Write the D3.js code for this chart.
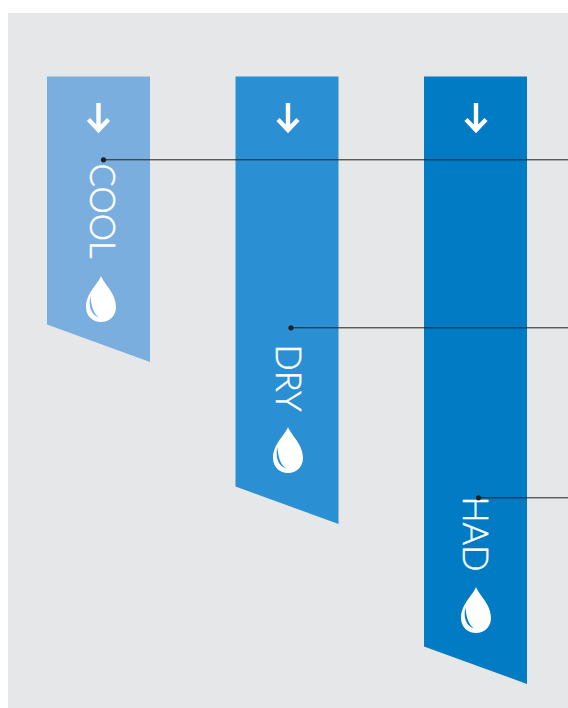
<!DOCTYPE html>
<html><head><meta charset="utf-8">
<script src="https://d3js.org/d3.v7.min.js"></script>
<style>html,body{margin:0;padding:0;background:#fff}svg{display:block}</style>
</head><body><svg id="c" width="568" height="708"></svg>
<script>
// Data (arbitrary depth units, top of bars = 0)
const categories = ["COOL", "DRY", "HAD"];
const barDepth = [248, 410, 570];
const leaderDepth = [83.3, 251.3, 421.3];
const colors = ["#7aaedf", "#2b90d3", "#007bc4"];

// Layout, separate from the data
const W = 568, H = 708, top0 = 76.5;
const slant = 37.5, barW = 103;
const labelY = [163.5, 344.5, 496.5], dropY = [276, 427, 587];
const dropShift = [2.5, 1, 0.5], arrowShift = [0, 1, 0.5];
const labelX = [89.5, 276, 462.5], dotX = [103.5, 291, 478.5];

const svg = d3.select("#c");
const xPos = d3.scalePoint().domain(categories).range([47, 424]);
const y = d3.scaleLinear().domain([0, 631.5]).range([top0, H]);

svg.append("rect").attr("x", 8).attr("y", 13).attr("width", W - 8).attr("height", H - 13).attr("fill", "#e6e7e9");

const line = d3.line();
const g = svg.selectAll("g.bar").data(categories).join("g").attr("class", "bar");

g.append("path").attr("fill", (d, i) => colors[i]).attr("d", (d, i) => {
  const l = xPos(d), r = l + barW, b = y(barDepth[i]);
  return line([[l, top0], [r, top0], [r, b + slant], [l, b]]) + "Z";
});

// arrow
g.append("path").attr("fill", "none").attr("stroke", "#fff").attr("stroke-width", 4.4).attr("stroke-linejoin", "miter")
  .attr("transform", (d, i) => `translate(${xPos(d) + barW / 2 + arrowShift[i]},0)`)
  .attr("d", "M0,103V130M-10,119.5L0,130L10,119.5");

// label
g.append("text").text(d => d)
  .attr("transform", (d, i) => `translate(${labelX[i]},${labelY[i]}) rotate(90)`)
  .attr("fill", "#fff").attr("stroke", "#fff").attr("stroke-width", 0.5)
  .attr("font-family", "Lato, 'Open Sans', sans-serif").attr("font-weight", 300)
  .attr("font-size", 34.5).attr("text-anchor", "start");

// drop
g.each(function(d, i) {
  const s = d3.select(this);
  const t = `translate(${xPos(d) + barW / 2 + dropShift[i]},${dropY[i]})`;
  s.append("path").attr("transform", t).attr("fill", "#fff")
    .attr("d", "M0,0C3,8 15,17 15,31C15,40 8,46 0,46C-8,46 -15,40 -15,31C-15,17 -3,8 0,0Z");
  s.append("path").attr("transform", t).attr("fill", colors[i])
    .attr("d", "M-10.5,20C-13,30 -10,39 -2,41.5C-7,38 -10,31 -10.5,20Z");
});

// leaders
const leaders = svg.selectAll("g.leader").data(categories).join("g").attr("class", "leader");
leaders.append("line").attr("x1", (d, i) => dotX[i]).attr("x2", W)
  .attr("y1", (d, i) => y(leaderDepth[i])).attr("y2", (d, i) => y(leaderDepth[i]))
  .attr("stroke", "#231f20").attr("stroke-width", 1);
leaders.append("circle").attr("cx", (d, i) => dotX[i]).attr("cy", (d, i) => y(leaderDepth[i])).attr("r", 2.6).attr("fill", "#231f20");
</script></body></html>
